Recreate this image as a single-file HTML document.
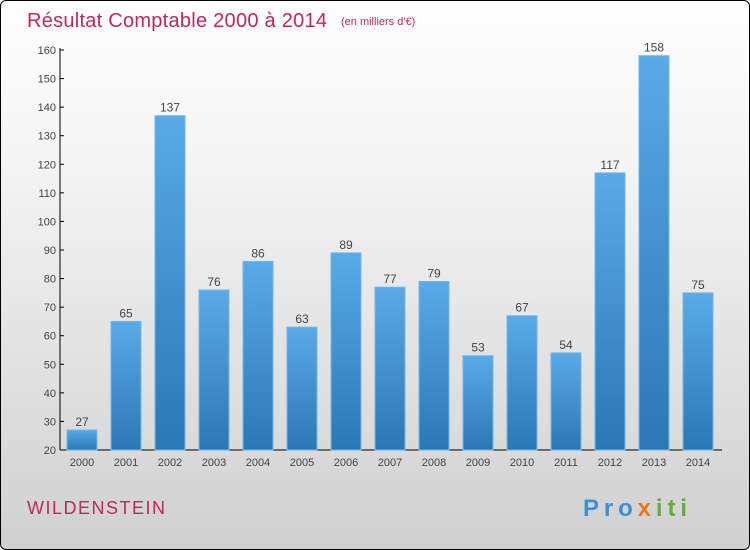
<!DOCTYPE html>
<html><head><meta charset="utf-8"><style>
body{margin:0;width:750px;height:550px;overflow:hidden;font-family:"Liberation Sans",sans-serif}
#frame{position:absolute;left:0;top:0;width:748px;height:548px;border:1px solid #000;border-radius:6px;background:linear-gradient(#fefefe,#f4f4f4 30%,#d0d0d0)}
</style></head><body>
<div id="frame"></div>
<svg id="c" width="750" height="550" style="position:absolute;left:0;top:0">
<defs><linearGradient id="g" x1="0" y1="0" x2="0" y2="1"><stop offset="0" stop-color="#5aaae6"/><stop offset="1" stop-color="#2a78b4"/></linearGradient></defs>
<text x="27" y="27" font-size="20" textLength="300" fill="#c0285a">Résultat Comptable 2000 à 2014</text>
<text x="341" y="25" font-size="11" fill="#c0285a">(en milliers d'€)</text>
<text x="27" y="514" font-size="18" textLength="138" fill="#c0285a">WILDENSTEIN</text>
<text x="583" y="516" font-size="24" font-weight="bold" textLength="104"><tspan fill="#3c8fd8">Pro</tspan><tspan fill="#e87a1e">x</tspan><tspan fill="#5fae3a">iti</tspan></text>
<g id="ax"></g><g id="bars"></g>
</svg>
<script>
const categories=["2000","2001","2002","2003","2004","2005","2006","2007","2008","2009","2010","2011","2012","2013","2014"];
const values=[27,65,137,76,86,63,89,77,79,53,67,54,117,158,75];
const ticks=[20,30,40,50,60,70,80,90,100,110,120,130,140,150,160];
const NS="http://www.w3.org/2000/svg";
const y=v=>450-(v-20)*400/140;
const x=i=>82+i*44;
function mk(t,a,p,txt){const e=document.createElementNS(NS,t);for(const k in a)e.setAttribute(k,a[k]);if(txt!=null)e.textContent=txt;p.appendChild(e);return e;}
const ax=document.getElementById('ax'),bg=document.getElementById('bars');
let l=mk('line',{x1:60,y1:48,x2:60,y2:450,stroke:'#000'},ax);


l=mk('line',{x1:60,y1:450,x2:722,y2:450,stroke:'#000'},ax);


ticks.forEach(t=>{
 const tk=mk('line',{x1:60,y1:y(t),x2:64,y2:y(t),stroke:'#000'},ax);
 
 
 const tx=mk('text',{x:56,y:y(t)+4,'font-size':11,fill:'#444','text-anchor':'end'},ax,t);
 
 
});
categories.forEach((c,i)=>{
 const tx=mk('text',{x:x(i),y:466,'font-size':11,fill:'#444','text-anchor':'middle'},ax,c);
 
 
 const v=values[i];
 const r=mk('rect',{x:x(i)-15,y:y(v),width:30,height:450-y(v),fill:'url(#g)',stroke:'#6fb8ee','stroke-width':1},bg);
 
 
 const vl=mk('text',{x:x(i),y:y(v)-4,'font-size':12,fill:'#444','text-anchor':'middle'},bg,v);
 
 
});
</script>
</body></html>
